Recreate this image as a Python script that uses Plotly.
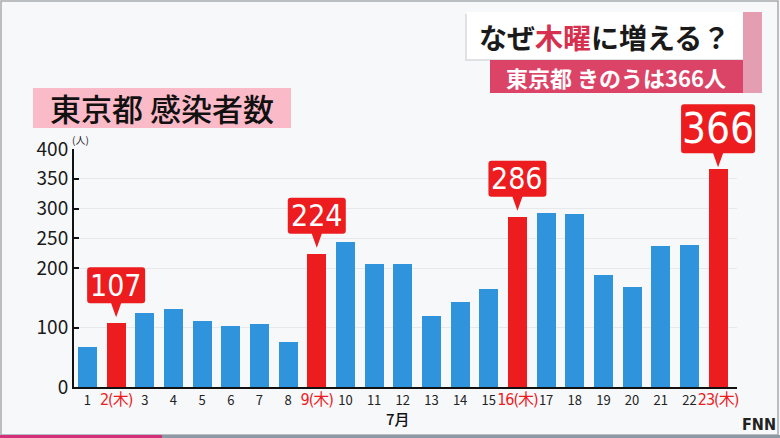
import plotly.graph_objects as go

# ---- data ----
days = list(range(1, 24))
cases = [67, 107, 124, 131, 111, 102, 106, 75, 224, 243, 206, 206, 119, 143, 165,
         286, 293, 290, 188, 168, 237, 238, 366]
thursdays = [2, 9, 16, 23]
y_ticks = [0, 100, 200, 250, 300, 350, 400]
title_parts = ["なぜ", "木曜", "に増える？"]
subtitle = "東京都 きのうは366人"
chart_label = "東京都 感染者数"
month_label = "7月"
unit_label = "(人)"

BLUE = "#2f94dc"
RED = "#ec1c1f"
BG = "#f7f8fa"
JP = "Noto Sans CJK JP"
NARROW = "Liberation Sans Narrow, DejaVu Sans Condensed, Roboto"

W, H = 780, 438
L, R, T, B = 74, 737, 149, 387  # plot area pixel bounds
X_RANGE = [-0.47, 22.66]
Y_RANGE = [0, 400]


def PX(px):
    return (px - L) / (R - L)


def PY(py):
    return (B - py) / (B - T)


def data_to_paper_x(v):
    return (v - X_RANGE[0]) / (X_RANGE[1] - X_RANGE[0])


def data_to_paper_y(v):
    return (v - Y_RANGE[0]) / (Y_RANGE[1] - Y_RANGE[0])


xs = [d - 1 for d in days]
colors = [RED if d in thursdays else BLUE for d in days]
ticktext = []
for d in days:
    if d in thursdays:
        ticktext.append(f'<span style="font-size:16px;color:{RED};'
                        f'font-family:DejaVu Sans Condensed,Noto Sans CJK JP;'
                        f'letter-spacing:-1px">{d}(木)</span>')
    else:
        ticktext.append(str(d))

fig = go.Figure()
fig.add_trace(go.Bar(x=xs, y=cases, marker=dict(color=colors, line=dict(width=0)),
                     width=0.66, hoverinfo="skip"))

shapes = []
annotations = []

# frame
shapes.append(dict(type="rect", xref="paper", yref="paper", x0=PX(1), x1=PX(778),
                   y0=PY(1), y1=PY(435), line=dict(color="#a8aaae", width=1.5),
                   fillcolor="rgba(0,0,0,0)", layer="below"))
# bottom stripe
shapes.append(dict(type="rect", xref="paper", yref="paper", x0=PX(0), x1=PX(162),
                   y0=PY(435), y1=PY(438), line=dict(width=0), fillcolor="#d3307a"))
shapes.append(dict(type="rect", xref="paper", yref="paper", x0=PX(162), x1=PX(780),
                   y0=PY(435), y1=PY(438), line=dict(width=0), fillcolor="#8e99a6"))

# title box
shapes.append(dict(type="rect", xref="paper", yref="paper", x0=PX(465), x1=PX(745),
                   y0=PY(14), y1=PY(61), line=dict(width=0), fillcolor="#dfe1e4"))
shapes.append(dict(type="rect", xref="paper", yref="paper", x0=PX(467), x1=PX(743),
                   y0=PY(12), y1=PY(59), line=dict(width=0), fillcolor="#ffffff"))
shapes.append(dict(type="rect", xref="paper", yref="paper", x0=PX(743), x1=PX(762),
                   y0=PY(12), y1=PY(93), line=dict(width=0), fillcolor="#e59db1"))
shapes.append(dict(type="rect", xref="paper", yref="paper", x0=PX(490), x1=PX(743),
                   y0=PY(60), y1=PY(93), line=dict(width=0), fillcolor="#dc4467"))
# chart label box
shapes.append(dict(type="rect", xref="paper", yref="paper", x0=PX(33), x1=PX(291),
                   y0=PY(88), y1=PY(128), line=dict(width=0), fillcolor="#fbbac8"))

title_txt = (f'{title_parts[0]}<span style="color:#d6304f">{title_parts[1]}</span>'
             f'{title_parts[2]}')
annotations.append(dict(xref="paper", yref="paper", x=PX(604), y=PY(37), text=title_txt,
                        showarrow=False, xanchor="center", yanchor="middle",
                        font=dict(family=JP, size=28, color="#1a1a1a", weight=700)))
annotations.append(dict(xref="paper", yref="paper", x=PX(616), y=PY(77), text=subtitle,
                        showarrow=False, xanchor="center", yanchor="middle",
                        font=dict(family=JP, size=22, color="#ffffff", weight=700)))
annotations.append(dict(xref="paper", yref="paper", x=PX(162), y=PY(108), text=chart_label,
                        showarrow=False, xanchor="center", yanchor="middle",
                        font=dict(family=JP, size=31, color="#111111", weight=500)))
annotations.append(dict(xref="paper", yref="paper", x=PX(80), y=PY(140), text=unit_label,
                        showarrow=False, xanchor="center", yanchor="middle",
                        font=dict(family=JP, size=10, color="#222222")))
annotations.append(dict(xref="paper", yref="paper", x=PX(398), y=PY(418), text=month_label,
                        showarrow=False, xanchor="center", yanchor="middle",
                        font=dict(family=JP, size=15, color="#111111", weight=500)))
annotations.append(dict(xref="paper", yref="paper", x=PX(778), y=PY(425), text="FNN",
                        showarrow=False, xanchor="right", yanchor="middle",
                        font=dict(family="DejaVu Sans Condensed", size=16, color="#222222",
                                  weight=800)))


def callout_path(hw, bot, top, tip, r=3, tb=5):
    return (f"M {-hw + r},{bot} L {-tb},{bot} L 0,{tip} L {tb},{bot} L {hw - r},{bot} "
            f"Q {hw},{bot} {hw},{bot + r} L {hw},{top - r} Q {hw},{top} {hw - r},{top} "
            f"L {-hw + r},{top} Q {-hw},{top} {-hw},{top - r} L {-hw},{bot + r} "
            f"Q {-hw},{bot} {-hw + r},{bot} Z")


max_val = max(cases)
for d in thursdays:
    v = cases[d - 1]
    big = v == max_val
    hw, bot, top, tip, fs = (37, 16, 65, 2, 42) if big else (29, 20, 56, 6, 30)
    shapes.append(dict(type="path", xref="paper", yref="paper",
                       xsizemode="pixel", ysizemode="pixel",
                       xanchor=data_to_paper_x(d - 1), yanchor=data_to_paper_y(v),
                       path=callout_path(hw, bot, top, tip),
                       fillcolor=RED, line=dict(width=0)))
    annotations.append(dict(x=d - 1, y=v, xref="x", yref="y", text=str(v), showarrow=False,
                            yshift=(bot + top) / 2, xanchor="center", yanchor="middle",
                            font=dict(family=NARROW, size=fs, color="#ffffff")))

fig.update_layout(
    width=W, height=H,
    margin=dict(l=L, r=W - R, t=T, b=H - B, pad=0),
    paper_bgcolor=BG, plot_bgcolor=BG,
    showlegend=False, bargap=0,
    shapes=shapes, annotations=annotations,
    xaxis=dict(range=X_RANGE, tickmode="array", tickvals=xs, ticktext=ticktext,
               tickangle=0, showgrid=False, zeroline=False, showline=True,
               linecolor="#111111", linewidth=2, ticks="",
               tickfont=dict(family=JP, size=13, color="#222222"), fixedrange=True),
    yaxis=dict(range=Y_RANGE, tickmode="array", tickvals=y_ticks,
               showgrid=True, gridcolor="#e6e8ec", gridwidth=1, zeroline=False,
               showline=True, linecolor="#111111", linewidth=2, ticks="inside",
               ticklen=5, tickwidth=2, tickcolor="#111111",
               tickfont=dict(family=JP, size=19, color="#1a1a1a"), fixedrange=True),
)

fig.write_html("out.html")
